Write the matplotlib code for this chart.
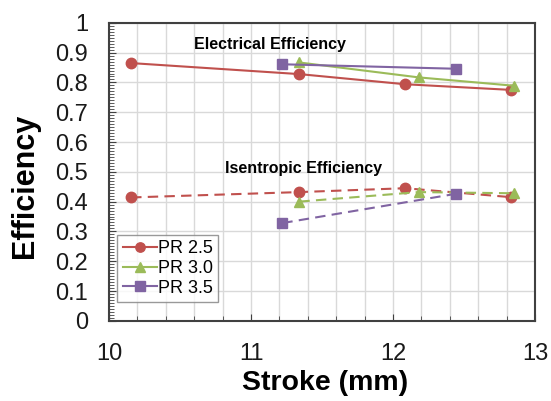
import matplotlib
matplotlib.use("Agg")
import matplotlib.pyplot as plt
from matplotlib.ticker import MultipleLocator

plt.rcParams['font.family'] = ['Liberation Sans', 'DejaVu Sans']

# Stroke (mm) and efficiency for each pressure ratio
stroke_25 = [10.155, 11.34, 12.085, 12.83]
elec_25 = [0.865, 0.828, 0.794, 0.775]
isen_25 = [0.414, 0.432, 0.445, 0.415]

stroke_30 = [11.34, 12.18, 12.85]
elec_30 = [0.867, 0.817, 0.789]
isen_30 = [0.400, 0.432, 0.428]

stroke_35 = [11.22, 12.44]
elec_35 = [0.861, 0.846]
isen_35 = [0.328, 0.426]

labels = ["PR 2.5", "PR 3.0", "PR 3.5"]
colors = ["#C0504D", "#9BBB59", "#8064A2"]
markers = ["o", "^", "s"]
ytick_labels = ["0", "0.1", "0.2", "0.3", "0.4", "0.5", "0.6", "0.7", "0.8", "0.9", "1"]

fig = plt.figure(figsize=(5.51, 4.01), dpi=100)
ax = fig.add_axes([0.198, 0.2, 0.773, 0.743])

series = [(stroke_25, elec_25, isen_25), (stroke_30, elec_30, isen_30), (stroke_35, elec_35, isen_35)]
for (x, e, s), lab, c, m in zip(series, labels, colors, markers):
    ax.plot(x, e, color=c, marker=m, markersize=7.5, linewidth=1.5, label=lab)
    ax.plot(x, s, color=c, marker=m, markersize=7.5, linewidth=1.5, linestyle=(0, (5, 3)))

ax.set_xlim(10, 13)
ax.set_ylim(0, 1)
ax.xaxis.set_major_locator(MultipleLocator(1))
ax.xaxis.set_minor_locator(MultipleLocator(0.2))
ax.yaxis.set_minor_locator(MultipleLocator(0.01))
ax.set_yticks([i / 10 for i in range(11)])
ax.set_yticklabels(ytick_labels)

# vertical grid every 0.2, horizontal only at the major ticks
ax.grid(True, axis="x", which="both", color="#d9d9d9", linewidth=1)
ax.grid(True, axis="y", which="major", color="#d9d9d9", linewidth=1)
ax.set_axisbelow(True)
ax.tick_params(which="major", direction="in", length=5, labelsize=17, colors="#404040", labelcolor="#1a1a1a")
ax.tick_params(which="minor", direction="in", length=3.5, colors="#404040")
ax.tick_params(axis="x", which="major", pad=16)
ax.tick_params(axis="y", which="major", pad=15)
for sp in ax.spines.values():
    sp.set_color("#404040")
    sp.set_linewidth(1.5)

ax.set_xlabel("Stroke (mm)", fontsize=20.5, fontweight="bold", va="center")
ax.xaxis.set_label_coords(0.507, -0.208)
ax.set_ylabel("Efficiency", fontsize=22, fontweight="bold", va="center")
ax.yaxis.set_label_coords(-0.197, 0.453)

ax.text(11.13, 0.926, "Electrical Efficiency", fontsize=11.5, fontweight="bold", ha="center", va="center")
ax.text(11.37, 0.51, "Isentropic Efficiency", fontsize=11.5, fontweight="bold", ha="center", va="center")

leg = ax.legend(loc="lower left", bbox_to_anchor=(0.019, 0.063), fontsize=13, frameon=True,
                fancybox=False, edgecolor="#808080", handlelength=1.9, handletextpad=0.05,
                labelspacing=0.15, borderpad=0.3, borderaxespad=0, markerscale=0.9)
leg.get_frame().set_linewidth(1.0)

fig.savefig("out.png", dpi=100)
